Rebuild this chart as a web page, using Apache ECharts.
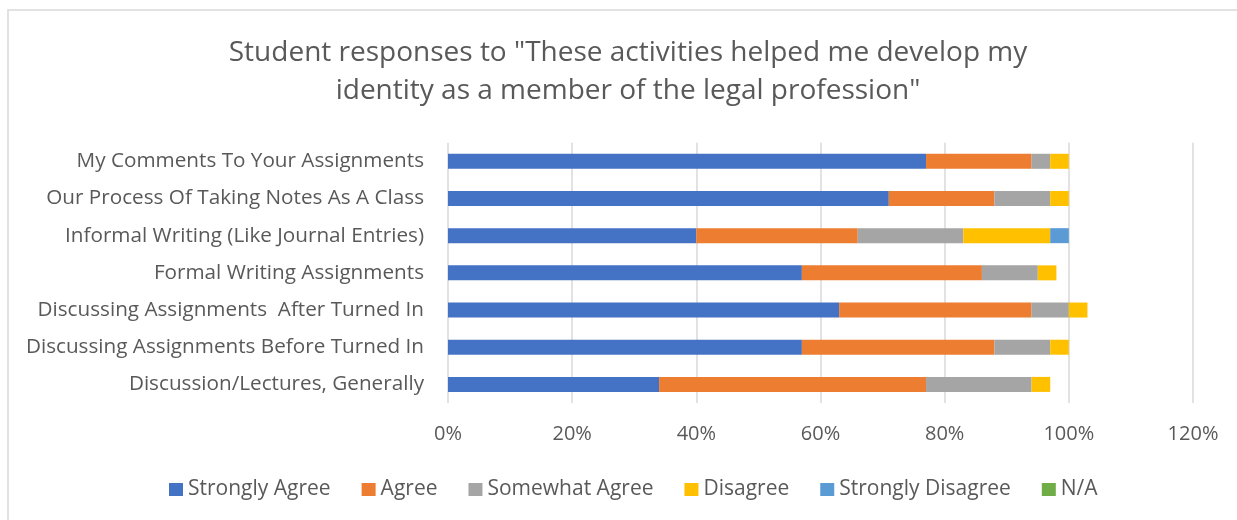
<!DOCTYPE html>
<html>
<head>
<meta charset="utf-8">
<script src="https://cdn.jsdelivr.net/npm/echarts@6/dist/echarts.min.js"></script>
<style>
  html, body { margin: 0; padding: 0; background: #ffffff; }
  #chart { width: 1237px; height: 520px; }
</style>
</head>
<body>
<div id="chart"></div>
<script>
// Activities, listed top to bottom
const categories = [
  'My Comments To Your Assignments',
  'Our Process Of Taking Notes As A Class',
  'Informal Writing (Like Journal Entries)',
  'Formal Writing Assignments',
  'Discussing Assignments  After Turned In',
  'Discussing Assignments Before Turned In',
  'Discussion/Lectures, Generally'
];

// Share of responses (%) per answer
const stronglyAgree    = [77, 71, 40, 57, 63, 57, 34];
const agree            = [17, 17, 26, 29, 31, 31, 43];
const somewhatAgree    = [3, 9, 17, 9, 6, 9, 17];
const disagree         = [3, 3, 14, 3, 3, 3, 3];
const stronglyDisagree = [0, 0, 3, 0, 0, 0, 0];
const notApplicable    = [0, 0, 0, 0, 0, 0, 0];

const seriesNames = ['Strongly Agree', 'Agree', 'Somewhat Agree', 'Disagree', 'Strongly Disagree', 'N/A'];
const seriesData = [stronglyAgree, agree, somewhatAgree, disagree, stronglyDisagree, notApplicable];
const palette = ['#4472C4', '#ED7D31', '#A5A5A5', '#FFC000', '#5B9BD5', '#70AD47'];

const titleLines = [
  'Student responses to "These activities helped me develop my',
  'identity as a member of the legal profession"'
];

const FONT = '"Open Sans", "DejaVu Sans", sans-serif';
const TEXT = '#595959';

const chart = echarts.init(document.getElementById('chart'), null, { renderer: 'canvas' });

chart.setOption({
  animation: false,
  backgroundColor: '#ffffff',
  textStyle: { fontFamily: FONT, color: TEXT },
  graphic: [
    {
      type: 'rect',
      shape: { x: 8, y: 10, width: 1250, height: 530 },
      style: { fill: 'none', stroke: '#d9d9d9', lineWidth: 1.5 },
      silent: true
    },
    {
      type: 'text',
      x: 628, y: 53,
      style: { text: titleLines[0], font: '28px ' + FONT, fill: TEXT, align: 'center', verticalAlign: 'middle' }
    },
    {
      type: 'text',
      x: 628, y: 91,
      style: { text: titleLines[1], font: '28px ' + FONT, fill: TEXT, align: 'center', verticalAlign: 'middle' }
    }
  ],
  legend: {
    data: seriesNames,
    left: 169,
    top: 479,
    orient: 'horizontal',
    itemWidth: 14,
    itemHeight: 13,
    itemGap: 31,
    icon: 'rect',
    selectedMode: false,
    textStyle: { fontFamily: FONT, fontSize: 21, color: TEXT },
    padding: 0
  },
  grid: { left: 448, right: 44, top: 142.7, bottom: 117, containLabel: false },
  xAxis: {
    type: 'value',
    min: 0,
    max: 120,
    interval: 20,
    axisLine: { show: false },
    axisTick: { show: false },
    splitLine: { show: true, lineStyle: { color: '#d9d9d9', width: 1.5 } },
    axisLabel: {
      formatter: v => v + '%',
      fontFamily: FONT, fontSize: 20, color: TEXT, margin: 21
    }
  },
  yAxis: {
    type: 'category',
    data: categories,
    inverse: true,
    axisLine: { show: false },
    axisTick: { show: false },
    splitLine: { show: false },
    axisLabel: { fontFamily: FONT, fontSize: 20.7, color: TEXT, margin: 24 }
  },
  series: seriesNames.map((name, i) => ({
    name,
    type: 'bar',
    stack: 'total',
    data: seriesData[i],
    barWidth: 15,
    itemStyle: { color: palette[i] }
  }))
});
</script>
</body>
</html>
